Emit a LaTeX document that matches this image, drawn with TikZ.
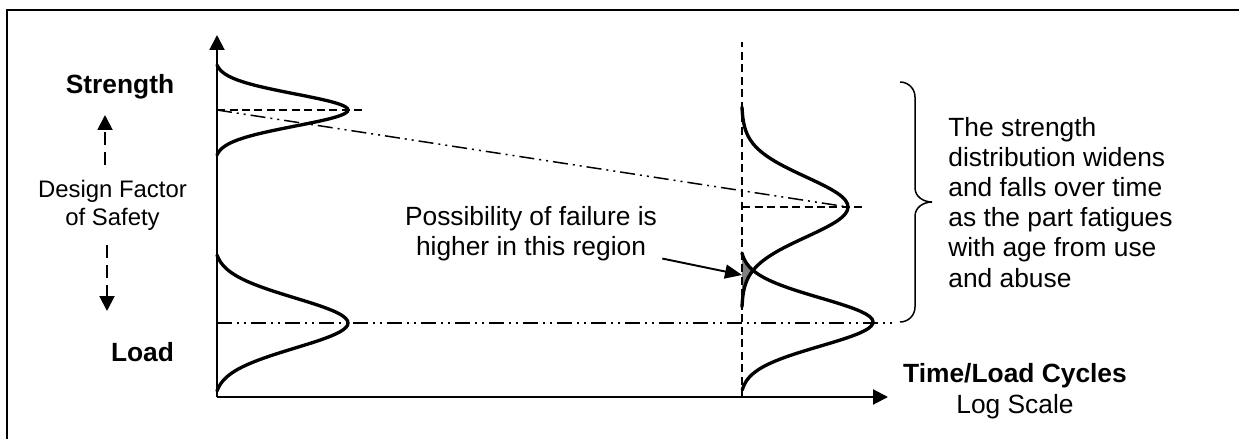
\documentclass[tikz,border=0pt]{standalone}
\usepackage{fontspec}
\setmainfont{Liberation Sans}
\usetikzlibrary{arrows.meta,positioning}

\begin{document}
\begin{tikzpicture}[x=0.02cm, y=-0.02cm,
    lbl/.style={font=\fontsize{15}{17.2}\selectfont, inner sep=0pt},
    bold/.style={font=\fontsize{15}{17.2}\selectfont\bfseries, inner sep=0pt},
    small/.style={font=\fontsize{13.6}{15.9}\selectfont, inner sep=0pt, align=center},
    axis/.style={line width=1.15pt, -{Triangle[length=0.3cm,width=0.3cm]}},
    curve/.style={line width=1.9pt, line cap=round, smooth, samples=61},
    guide/.style={line width=0.85pt, dash pattern=on 0.16cm off 0.09cm},
    ddot/.style={line width=0.85pt, dash pattern=on 0.3cm off 0.1cm on 0.04cm off 0.1cm on 0.04cm off 0.1cm},
    dfarr/.style={line width=1.1pt, dash pattern=on 0.26cm off 0.14cm, -{Triangle[length=0.3cm,width=0.3cm]}},
    farr/.style={line width=1.1pt, -{Triangle[length=0.34cm,width=0.28cm]}}
]
\fill[white] (0,0) rectangle (1239,439);
\useasboundingbox (0,0) rectangle (1239,439);
\draw[line width=1.5pt] (7,439) -- (7,10) -- (1239,10);

\coordinate (O) at (217,397);
\coordinate (ytip) at (217,35);
\coordinate (xtip) at (888,397);
\coordinate (tTop) at (742,42);
\coordinate (tBot) at (742,397);
\coordinate (sPk1) at (217,110);
\coordinate (sPk2) at (848,207);
\coordinate (lPk1) at (217,323);
\coordinate (lEnd) at (893,323);
\coordinate (sUp) at (105,115);
\coordinate (lDn) at (107,311);
\coordinate (fail) at (742,275);

\node[bold, anchor=base] (strength) at (120,93) {Strength};
\node[bold, anchor=base] (load) at (142.5,361) {Load};
\node[small] (dfs) at (112.5,205) {Design Factor\\of Safety};
\node[lbl, align=center] (poss) at (531,233.3) {Possibility of failure is\\higher in this region};
\node[lbl, align=left, anchor=north west] (note) at (948,116.6) {The strength\\distribution widens\\and falls over time\\as the part fatigues\\with age from use\\and abuse};
\node[bold, anchor=base] (tlc) at (1015,382) {Time/Load Cycles};
\node[lbl, anchor=base] (logs) at ([yshift=-0.62cm]tlc.base) {Log Scale};

\fill[gray] plot[smooth, domain=253:270.5, samples=20, variable=\t] ({742+131*(exp(-(\t-322)*(\t-322)/1152)-0.016)/0.984}, \t)
  -- plot[smooth, domain=270.5:307, samples=20, variable=\t] ({742+106*(exp(-(\t-207)*(\t-207)/1800)-0.0039)/0.9961}, \t)
  -- (742,307) -- cycle;

\draw[guide] (tBot) -- (tTop);
\draw[guide] (sPk1) -- (362,110);
\draw[guide] (742,207) -- (863,207);
\draw[ddot] (sPk1) -- (sPk2);
\draw[ddot] (lPk1) -- (lEnd);

\draw[curve] plot[domain=65:155, variable=\t] ({217+131*(exp(-(\t-110)*(\t-110)/512)-0.0192)/0.9808}, \t);
\draw[curve] plot[domain=255:391, variable=\t] ({217+131*(exp(-(\t-323)*(\t-323)/1250)-0.0247)/0.9753}, \t);
\draw[curve] plot[domain=107:307, variable=\t] ({742+106*(exp(-(\t-207)*(\t-207)/1800)-0.0039)/0.9961}, \t);
\draw[curve] plot[domain=253:390, variable=\t] ({742+131*(exp(-(\t-322)*(\t-322)/1152)-0.016)/0.984}, \t);

\draw[axis] (O) -- (ytip);
\draw[axis] (O) -- (xtip);

\draw[dfarr, shorten <=0.3cm] (dfs.north -| sUp) -- (sUp);
\draw[dfarr, shorten <=0.3cm] (dfs.south -| lDn) -- (lDn);
\draw[farr] ([xshift=0.1cm,yshift=0.05cm]poss.south east) -- (fail);

\draw[line width=0.85pt] (900,82) to[out=0,in=90] (915,97) -- (915,188)
  to[out=-90,in=180] (932,202) to[out=180,in=90] (915,216) -- (915,307)
  to[out=-90,in=0] (900,322);
\end{tikzpicture}
\end{document}
